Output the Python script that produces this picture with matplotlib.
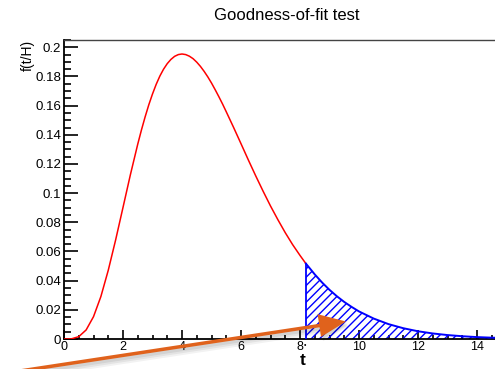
import numpy as np
import matplotlib
matplotlib.use("Agg")
import matplotlib.pyplot as plt
import matplotlib.patches as mpatches
from matplotlib.ticker import MultipleLocator

plt.rcParams['font.family'] = ['Liberation Sans', 'DejaVu Sans']
plt.rcParams['hatch.linewidth'] = 1.0

# curve values (red part, up to t* = 8.2)
t_main = [0.0, 0.25, 0.5, 0.75, 1.0, 1.25, 1.5, 1.75, 2.0, 2.25, 2.5, 2.625, 2.75, 2.875, 3.0, 3.125,
	3.25, 3.375, 3.5, 3.625, 3.75, 3.875, 4.0, 4.125, 4.25, 4.375, 4.5, 4.625, 4.75, 4.875, 5.0, 5.125,
	5.25, 5.375, 5.5, 5.75, 6.0, 6.25, 6.5, 6.75, 7.0, 7.25, 7.5, 7.75, 8.0, 8.2]
f_main = [0.0, 0.0001, 0.0016, 0.0062, 0.0153, 0.0291, 0.0471, 0.0679, 0.0902, 0.1126, 0.1336, 0.1433,
	0.1523, 0.1606, 0.1680, 0.1746, 0.1803, 0.1850, 0.1888, 0.1917, 0.1938, 0.1950, 0.1954, 0.1950,
	0.1939, 0.1922, 0.1898, 0.1869, 0.1835, 0.1797, 0.1755, 0.1709, 0.1661, 0.1611, 0.1558, 0.1450,
	0.1339, 0.1227, 0.1118, 0.1013, 0.0912, 0.0818, 0.0729, 0.0647, 0.0573, 0.0517]

# tail beyond t* (blue, hatched)
t_tail = [8.2, 8.5, 8.75, 9.0, 9.25, 9.5, 9.75, 10.0, 10.5, 11.0, 11.5, 12.0, 12.5, 13.0, 13.5, 14.0, 14.5, 15.0]
f_tail = [0.0517, 0.0443, 0.0387, 0.0337, 0.0293, 0.0254, 0.0220, 0.0189, 0.0140, 0.0102, 0.0074,
	0.0053, 0.0038, 0.0027, 0.0019, 0.0013, 0.0009, 0.0007]

title = 'Goodness-of-fit test'
ylab = 'f(t/H)'
xlab = 't'

fig = plt.figure(figsize=(4.95, 3.69), dpi=100)
ax = fig.add_axes([64/495, 30/369, 442.5/495, 299/369])

ax.plot(t_main, f_main, color='#ff0000', lw=1.1, zorder=3)
ax.fill_between(t_tail, 0, f_tail, facecolor='none', edgecolor='#0000ff', hatch='////', lw=0, zorder=2)
ax.plot(t_tail, f_tail, color='#0000ff', lw=1.4, zorder=3)
ax.plot([t_tail[0], t_tail[0]], [0, f_tail[0]], color='#0000ff', lw=1.3, zorder=3)

ax.set_xlim(0, 15)
ax.set_ylim(0, 0.205)
ax.xaxis.set_minor_locator(MultipleLocator(0.5))
ax.yaxis.set_minor_locator(MultipleLocator(0.005))
ax.set_yticks(np.arange(0, 0.201, 0.02))
ax.set_yticklabels(['0', '0.02', '0.04', '0.06', '0.08', '0.1', '0.12', '0.14', '0.16', '0.18', '0.2'])
ax.set_xticks(np.arange(0, 15, 2))
ax.set_xticklabels([str(v) for v in range(0, 15, 2)])

ax.tick_params(axis='y', which='major', direction='in', length=10, width=1.2, pad=2, labelsize=9.5, colors='black')
ax.tick_params(axis='y', which='minor', direction='in', length=5, width=1.2)
ax.tick_params(axis='x', which='major', direction='in', length=6.5, width=1.2, pad=1.5, labelsize=9)
ax.tick_params(axis='x', which='minor', direction='in', length=3.2, width=1.2)
ax.tick_params(top=False, right=False)

for s in ['left', 'bottom']:
	ax.spines[s].set_linewidth(1.3)
	ax.spines[s].set_color('black')
ax.spines['top'].set_linewidth(1.0)
ax.spines['top'].set_color('#444444')
ax.spines['right'].set_visible(False)

fig.text(286.5/495, 1 - 16/369, title, ha='center', va='center', fontsize=12)
ax.text(-0.066, 1.0, ylab, rotation=90, ha='right', va='top', transform=ax.transAxes, fontsize=10)
fig.text(303/495, 1 - 365/369, xlab, ha='center', va='baseline', fontsize=12.5, fontweight='bold')
fig.text(305/495, 1 - 345/369, '\u2022', ha='center', va='center', fontsize=5)

# orange arrow with soft shadow, in figure inches
x0, y0 = 0.20, -0.02
x1, y1 = 3.46, 0.475
for k, a in enumerate([0.07, 0.06, 0.05]):
	sh = mpatches.FancyArrow(x0 + 0.02, y0 - 0.025 - 0.012*k, x1 - x0, y1 - y0, width=0.04 + 0.015*k,
		head_width=0.22, head_length=0.27, length_includes_head=True, color='black', alpha=a, lw=0,
		transform=fig.dpi_scale_trans)
	fig.patches.append(sh)
arr = mpatches.FancyArrow(x0, y0, x1 - x0, y1 - y0, width=0.035, head_width=0.23, head_length=0.27,
	length_includes_head=True, color='#e0621c', lw=0, transform=fig.dpi_scale_trans)
fig.patches.append(arr)

fig.savefig('out.png', dpi=100)
